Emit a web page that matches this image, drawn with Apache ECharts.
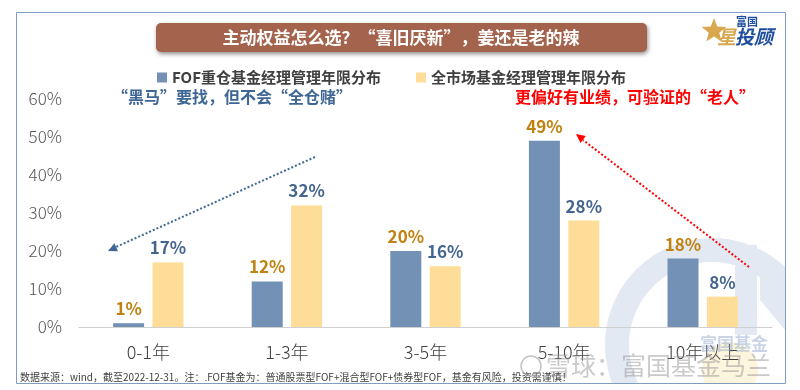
<!DOCTYPE html>
<html>
<head>
<meta charset="utf-8">
<script src="https://cdn.jsdelivr.net/npm/echarts@6/dist/echarts.min.js"></script>
<style>
html,body{margin:0;padding:0;background:#fff;}
#c{width:800px;height:390px;}
</style>
</head>
<body>
<div id="c"></div>
<script>
var categories = ['0-1年', '1-3年', '3-5年', '5-10年', '10年以上'];
var fofValues = [1, 12, 20, 49, 18];
var marketValues = [17, 32, 16, 28, 8];
var yTicks = [0, 10, 20, 30, 40, 50, 60];
var seriesNames = ['FOF重仓基金经理管理年限分布', '全市场基金经理管理年限分布'];
var titleText = '主动权益怎么选？“喜旧厌新”，姜还是老的辣';
var noteLeft = '“黑马”要找，但不会“全仓赌”';
var noteRight = '更偏好有业绩，可验证的“老人”';
var sourceText = '数据来源：wind，截至2022-12-31。注：.FOF基金为：普通股票型FOF+混合型FOF+债券型FOF，基金有风险，投资需谨慎！';

var FONT = '"Noto Sans CJK SC", "Noto Sans", sans-serif';
var chart = echarts.init(document.getElementById('c'), null, {renderer: 'canvas'});

function starPoints(cx, cy, R, r) {
  var pts = [];
  for (var i = 0; i < 10; i++) {
    var a = -Math.PI / 2 + i * Math.PI / 5;
    var rad = i % 2 === 0 ? R : r;
    pts.push([cx + rad * Math.cos(a), cy + rad * Math.sin(a)]);
  }
  return pts;
}
function arrowHead(x1, y1, x2, y2, size, color) {
  var ang = Math.atan2(y2 - y1, x2 - x1);
  var p1 = [x2, y2];
  var p2 = [x2 - size * Math.cos(ang - 0.45), y2 - size * Math.sin(ang - 0.45)];
  var p3 = [x2 - size * Math.cos(ang + 0.45), y2 - size * Math.sin(ang + 0.45)];
  return {type: 'polygon', shape: {points: [p1, p2, p3]}, style: {fill: color}, z: 10};
}

var option = {
  animation: false,
  backgroundColor: '#ffffff',
  textStyle: {fontFamily: FONT},
  grid: {left: 79, right: 28, top: 99, bottom: 63, containLabel: false},
  legend: [
    {
      data: [seriesNames[0]], left: 152, top: 65, icon: 'rect', itemWidth: 10, itemHeight: 10, itemGap: 5,
      textStyle: {fontFamily: FONT, fontSize: 15, fontWeight: 'bold', color: '#404040'}
    },
    {
      data: [seriesNames[1]], left: 411, top: 65, icon: 'rect', itemWidth: 10, itemHeight: 10, itemGap: 5,
      textStyle: {fontFamily: FONT, fontSize: 15, fontWeight: 'bold', color: '#404040'}
    }
  ],
  xAxis: {
    type: 'category',
    data: categories,
    axisLine: {show: true, lineStyle: {color: '#D0D0D0', width: 1}},
    axisTick: {show: false},
    axisLabel: {fontFamily: FONT, fontSize: 18, color: '#404040', margin: 16, fontWeight: 300}
  },
  yAxis: {
    type: 'value',
    min: 0, max: 60, interval: 10,
    axisLine: {show: false},
    axisTick: {show: false},
    splitLine: {show: false},
    axisLabel: {
      fontFamily: FONT, fontSize: 17, color: '#555555', margin: 17, fontWeight: 300,
      formatter: function (v) { return yTicks.indexOf(v) >= 0 ? v + '%' : ''; }
    }
  },
  series: [
    {
      name: seriesNames[0], type: 'bar', data: fofValues, barWidth: 31, barGap: '27%',
      itemStyle: {color: '#7291B5'},
      label: {show: true, position: 'top', distance: 6, formatter: '{c}%', fontFamily: FONT, fontSize: 17, fontWeight: 'bold', color: '#C0820F'}
    },
    {
      name: seriesNames[1], type: 'bar', data: marketValues, barWidth: 31,
      itemStyle: {color: '#FEDD98'},
      label: {show: true, position: 'top', distance: 6, formatter: '{c}%', fontFamily: FONT, fontSize: 17, fontWeight: 'bold', color: '#44658F'}
    }
  ],
  graphic: [
    // watermark logo (clipped to the frame)
    {
      type: 'group', z: -10, silent: true,
      clipPath: {type: 'rect', shape: {x: 17, y: 13, width: 769, height: 371}},
      children: [
        {type: 'arc', shape: {cx: 712, cy: 345, r: 95, startAngle: Math.PI * 0.85, endAngle: Math.PI * 1.95}, style: {stroke: '#E3E9F3', lineWidth: 24, fill: null}},
        {type: 'rect', shape: {x: 735, y: 245, width: 22, height: 90}, style: {fill: '#E3E9F3'}},
        {type: 'polygon', shape: {points: [[760, 260], [785, 290], [785, 330], [760, 300]]}, style: {fill: '#E3E9F3'}},
        {type: 'circle', shape: {cx: 730, cy: 370, r: 28}, style: {fill: 'rgba(253,236,190,0.5)'}}
      ]
    },
    // outer frame
    {type: 'rect', shape: {x: 16.5, y: 12.5, width: 769, height: 371}, style: {fill: null, stroke: '#7F9CC3', lineWidth: 1}, z: 0},
    // title bar
    {type: 'rect', shape: {x: 156, y: 23, width: 491, height: 29, r: 5}, style: {fill: '#A4634C', shadowBlur: 4, shadowOffsetX: 1, shadowOffsetY: 2, shadowColor: 'rgba(0,0,0,0.45)'}, z: 5},
    {type: 'text', x: 401, y: 37.5, style: {text: titleText, fill: '#ffffff', font: 'bold 17px ' + FONT, textAlign: 'center', textVerticalAlign: 'middle'}, z: 6},
    // logo
    {type: 'polygon', shape: {points: starPoints(714, 31, 13, 5.5)}, style: {fill: '#D8A74E'}, z: 6},
    {type: 'text', x: 736, y: 22, style: {text: '富国', fill: '#1F4E9E', font: 'bold 11px ' + FONT, textAlign: 'left', textVerticalAlign: 'middle'}, z: 6},
    {type: 'text', x: 717, y: 37, style: {text: '星', fill: '#D8A74E', font: 'italic bold 19px ' + FONT, textAlign: 'left', textVerticalAlign: 'middle'}, z: 7},
    {type: 'text', x: 735, y: 37, style: {text: '投顾', fill: '#1F4E9E', font: 'italic bold 19px ' + FONT, textAlign: 'left', textVerticalAlign: 'middle'}, z: 7},
    // annotations
    {type: 'text', x: 112, y: 97, style: {text: noteLeft, fill: '#3F6795', font: 'bold 16px ' + FONT, textAlign: 'left', textVerticalAlign: 'middle'}, z: 6},
    {type: 'text', x: 755, y: 97, style: {text: noteRight, fill: '#FF0000', font: 'bold 16px ' + FONT, textAlign: 'right', textVerticalAlign: 'middle'}, z: 6},
    // blue dotted arrow
    {type: 'line', shape: {x1: 315, y1: 157, x2: 116, y2: 247}, style: {stroke: '#3F6795', lineWidth: 2, lineDash: [2, 2]}, z: 9},
    arrowHead(315, 157, 108, 251, 10, '#3F6795'),
    // red dotted arrow
    {type: 'line', shape: {x1: 749, y1: 267, x2: 583, y2: 140}, style: {stroke: '#FF0000', lineWidth: 2, lineDash: [2, 2]}, z: 9},
    arrowHead(749, 267, 576, 134, 10, '#FF0000'),
    // source note
    {type: 'text', x: 20, y: 377, style: {text: sourceText, fill: '#404040', font: '10px ' + FONT, textAlign: 'left', textVerticalAlign: 'middle'}, z: 6},
    // watermark texts
    {type: 'text', x: 700, y: 344, style: {text: '富国基金', fill: 'rgba(120,150,195,0.4)', font: 'bold 17px ' + FONT, textAlign: 'left', textVerticalAlign: 'middle'}, z: 8, silent: true},
    {type: 'circle', shape: {cx: 531, cy: 366, r: 10}, style: {fill: null, stroke: 'rgba(150,150,150,0.55)', lineWidth: 1.5}, z: 8, silent: true},
    {type: 'text', x: 546, y: 365, style: {text: '雪球：富国基金马兰', fill: 'rgba(150,150,150,0.5)', font: '25px ' + FONT, textAlign: 'left', textVerticalAlign: 'middle'}, z: 8, silent: true}
  ]
};
chart.setOption(option);
</script>
</body>
</html>
